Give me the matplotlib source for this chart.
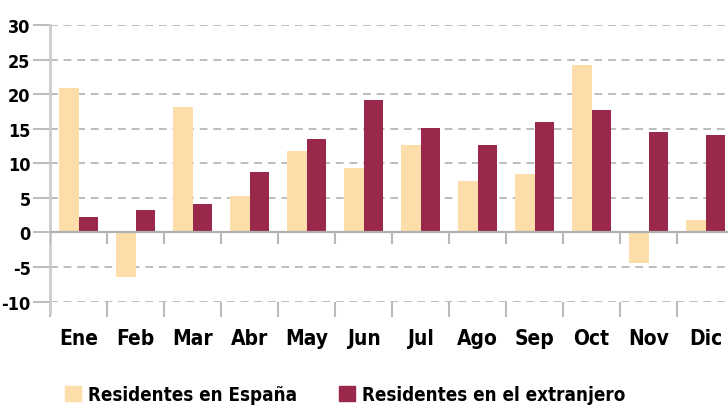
import numpy as np
import matplotlib
matplotlib.use("Agg")
import matplotlib.pyplot as plt
from matplotlib.patches import Patch

meses = ['Ene', 'Feb', 'Mar', 'Abr', 'May', 'Jun', 'Jul', 'Ago', 'Sep', 'Oct', 'Nov', 'Dic']
espana = [20.9, -6.4, 18.1, 5.3, 11.8, 9.3, 12.6, 7.4, 8.45, 24.2, -4.4, 1.8]
extranjero = [2.2, 3.25, 4.1, 8.7, 13.5, 19.1, 15.1, 12.6, 16.0, 17.7, 14.5, 14.1]
yticks = [-10, -5, 0, 5, 10, 15, 20, 25, 30]

c_esp = '#FDDEAB'
c_ext = '#9A284A'
fuente = 'DejaVu Sans'
plt.rcParams['axes.unicode_minus'] = False

fig = plt.figure(figsize=(7.28, 4.14), dpi=100)
ax = fig.add_axes([50/728, 111.5/414, 684/728, 276.5/414])

x = np.arange(len(meses))
w = 0.34
ax.bar(x - w/2, espana, w, color=c_esp, zorder=3)
ax.bar(x + w/2, extranjero, w, color=c_ext, zorder=3)

ax.set_xlim(-0.5, 11.5)
ax.set_ylim(-10, 30)

# rejilla y linea del cero
ax.set_yticks(yticks)
ax.yaxis.grid(True, color='#bdbdbd', linestyle=(0, (4, 3)), linewidth=1.4, zorder=0)
ax.axhline(0, color='#b0b0b0', linewidth=1.6, zorder=4)
ax.vlines(np.arange(-0.5, 12, 1), -1.7, 0, color='#b8b8b8', linewidth=1.5, zorder=4)

for s in ['top', 'right', 'bottom']:
    ax.spines[s].set_visible(False)
ax.spines['left'].set_color('#cccccc')
ax.spines['left'].set_linewidth(2)
ax.spines['left'].set_bounds(-11.6, 30)

ax.tick_params(axis='y', length=12, color='#bdbdbd', width=1.4, pad=2)
ax.set_xticks(x)
ax.set_xticks(np.arange(-0.5, 12, 1), minor=True)
ax.tick_params(axis='x', which='major', length=0, pad=19)
ax.tick_params(axis='x', which='minor', length=11, color='#bbbbbb', width=1.5)

for lab in ax.get_yticklabels():
    lab.set_family(fuente)
    lab.set_fontweight('bold')
    lab.set_fontstretch('condensed')
    lab.set_fontsize(13)
ax.set_xticklabels(meses, family=fuente, fontweight='bold', fontstretch='condensed', fontsize=15)

handles = [Patch(color=c_esp, label='Residentes en España'),
           Patch(color=c_ext, label='Residentes en el extranjero')]
fig.legend(handles=handles, loc='lower left', bbox_to_anchor=(48/728, -0.02), ncol=2,
           frameon=False, prop={'family': fuente, 'weight': 'bold', 'stretch': 'condensed', 'size': 13.5},
           handlelength=0.85, handleheight=0.85, handletextpad=0.4, columnspacing=2.2)

fig.savefig('out.png', dpi=100)
